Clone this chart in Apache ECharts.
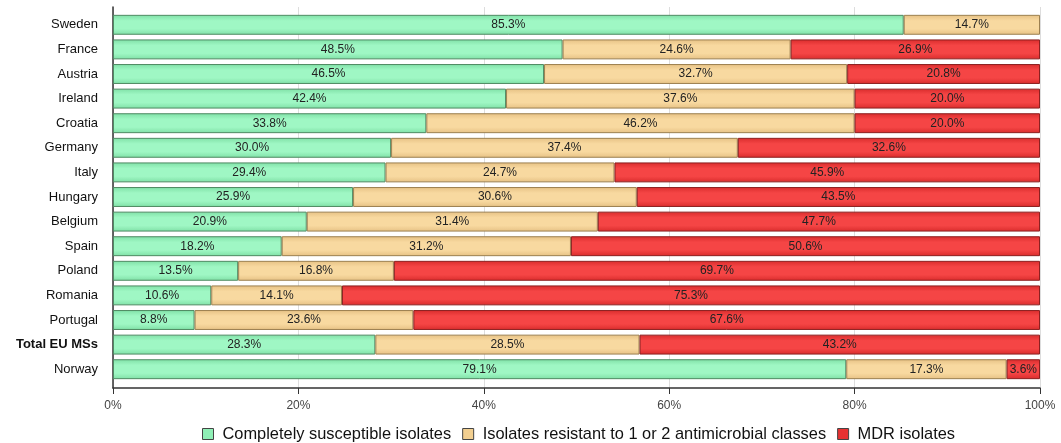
<!DOCTYPE html>
<html><head><meta charset="utf-8">
<script src="https://cdn.jsdelivr.net/npm/echarts@6/dist/echarts.min.js"></script>
<style>html,body{margin:0;padding:0;background:#fff}#c{width:1061px;height:443px}</style>
</head><body><div id="c"></div>
<script>
const categories = ["Sweden","France","Austria","Ireland","Croatia","Germany","Italy","Hungary","Belgium","Spain","Poland","Romania","Portugal","Total EU MSs","Norway"];
const susceptible = [85.3,48.5,46.5,42.4,33.8,30.0,29.4,25.9,20.9,18.2,13.5,10.6,8.8,28.3,79.1];
const resistant12 = [14.7,24.6,32.7,37.6,46.2,37.4,24.7,30.6,31.4,31.2,16.8,14.1,23.6,28.5,17.3];
const mdr = [null,26.9,20.8,20.0,20.0,32.6,45.9,43.5,47.7,50.6,69.7,75.3,67.6,43.2,3.6];
const seriesNames = ["Completely susceptible isolates","Isolates resistant to 1 or 2 antimicrobial classes","MDR isolates"];
const xTicks = [0,20,40,60,80,100];

function grad(dark, light){
  return {type:'linear',x:0,y:0,x2:0,y2:1,colorStops:[
    {offset:0,color:dark},{offset:0.3,color:light},{offset:0.7,color:light},{offset:1,color:dark}]};
}
const styles = [
  {fill:grad('#7fe0a6','#9ff7c4'), border:'#4f8a63', legend:'#8ff0b6'},
  {fill:grad('#e6c184','#f8d9a0'), border:'#9c8050', legend:'#f2cf90'},
  {fill:grad('#d92c2c','#f54545'), border:'#8c2020', legend:'#e83232'}
];
const datas = [susceptible, resistant12, mdr];
const FONT = 'Liberation Sans, Arial, sans-serif';
const chart = echarts.init(document.getElementById('c'));
chart.setOption({
  animation:false,
  textStyle:{fontFamily:FONT},
  grid:[
    {left:113,right:21,top:7,bottom:55},
    {left:113,right:21,top:12.5,bottom:61.5}
  ],
  legend:{
    top:426,left:202,padding:0,itemWidth:11,itemHeight:11,itemGap:11,
    textStyle:{fontSize:16.4,color:'#111',fontFamily:FONT,padding:[0,0,0,4]},
    icon:'rect',
    data:seriesNames.map((n,i)=>({name:n,itemStyle:{color:styles[i].legend,borderColor:'#444',borderWidth:1}}))
  },
  xAxis:[{
    gridIndex:0,type:'value',min:0,max:100,interval:20,
    axisLine:{show:true,lineStyle:{color:'#333',width:1.5}},
    axisTick:{show:true,length:6,lineStyle:{color:'#333'}},
    splitLine:{show:true,lineStyle:{color:'#dddddd'}},
    axisLabel:{formatter:v=>xTicks.includes(v)?v+'%':'',fontSize:12,color:'#444',margin:12}
  },{
    gridIndex:1,type:'value',min:0,max:100,show:false
  }],
  yAxis:[{
    gridIndex:0,type:'category',data:[''],
    axisLine:{show:true,lineStyle:{color:'#333',width:1.5}},
    axisTick:{show:false},axisLabel:{show:false},splitLine:{show:false}
  },{
    gridIndex:1,type:'category',data:categories,inverse:true,
    axisLine:{show:false},
    axisTick:{show:false},
    axisLabel:{fontSize:13,color:'#111',margin:15,
      formatter:v=>v==='Total EU MSs'?'{b|'+v+'}':v,
      rich:{b:{fontWeight:'bold',fontSize:13,color:'#111'}}}
  }],
  series:datas.map((d,i)=>({
    name:seriesNames[i],type:'bar',stack:'all',barCategoryGap:'19%',
    xAxisIndex:1,yAxisIndex:1,
    data:d,
    itemStyle:{color:styles[i].fill,borderColor:styles[i].border,borderWidth:1},
    label:{show:true,position:'inside',fontSize:12,color:'#222',
      formatter:p=>p.value==null?'':p.value.toFixed(1)+'%'}
  }))
});
</script></body></html>
